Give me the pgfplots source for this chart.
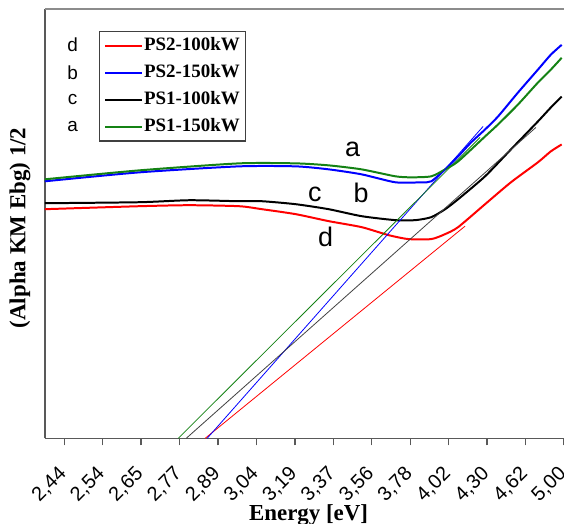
\documentclass[border=0pt]{standalone}
\usepackage{fontspec}
\setmainfont{Liberation Serif}
\setsansfont{Liberation Sans}
\usepackage{pgfplots}
\pgfplotsset{compat=1.18}

\definecolor{cgreen}{RGB}{20,130,20}

% curves: x = tick index (0 = 2,44 ... 13 = 5,00), y = arbitrary units
\pgfplotstableread{
x y
-0.505 230
1.956 233
3.251 234
4.547 233
5.142 230
6.023 225
6.878 218
7.733 212
8.433 204
8.951 200
9.547 200
9.909 205
10.246 212
10.946 235
11.619 257
12.319 277
12.655 288
12.940 295
}\redcurve
\pgfplotstableread{
x y
-0.505 258
1.956 267
4.547 273
6.023 273
6.878 270
7.733 265
8.614 257
9.288 257
9.547 258
9.909 270
10.246 283
10.583 297
10.946 310
11.282 323
11.801 347
12.319 370
12.655 385
12.940 395
}\bluecurve
\pgfplotstableread{
x y
-0.505 236
1.956 237
3.251 239
4.547 238
5.142 238
6.023 235
6.878 230
7.733 223
8.614 219
9.132 219
9.547 222
9.909 230
10.246 240
10.946 263
11.619 290
12.319 318
12.655 332
12.940 343
}\blackcurve
\pgfplotstableread{
x y
-0.505 260
1.956 269
4.547 276
6.023 276
6.878 274
7.733 270
8.614 263
9.029 262
9.547 263
9.909 270
10.246 278
10.946 303
11.282 315
11.801 335
12.319 357
12.655 370
12.940 382
}\greencurve

\begin{document}
\begin{tikzpicture}
\begin{axis}[
  scale only axis,
  width=260.6pt, height=215.5pt,
  xmin=-0.505, xmax=13, ymin=0, ymax=431,
  clip=false,
  axis x line*=bottom, axis y line*=left,
  x axis line style={-}, y axis line style={-},
  axis line style={black!65, line width=0.7pt},
  xtick={0,...,13},
  xticklabels={{2,44},{2,54},{2,65},{2,77},{2,89},{3,04},{3,19},{3,37},{3,56},{3,78},{4,02},{4,30},{4,62},{5,00}},
  tick align=outside, major tick length=3.5pt,
  tick style={black!65, line width=0.7pt},
  ytick=\empty,
  xticklabel style={xshift=-3.5pt, yshift=-9.5pt, rotate=45, anchor=north east,
    inner sep=0pt, font=\sffamily\fontsize{10}{12}\selectfont},
  xlabel={Energy [eV]},
  xlabel style={at={(axis description cs:0.508,0)}, anchor=base, yshift=-41.5pt, font=\bfseries\fontsize{11.5}{13}\selectfont},
  ylabel={(Alpha KM Ebg) 1/2},
  ylabel style={at={(axis description cs:-0.048,0.49)}, anchor=center, font=\bfseries\fontsize{11.5}{13}\selectfont},
  legend style={at={(rel axis cs:0.1036,0.949)}, anchor=north west,
    draw=black!75, line width=0.6pt, inner xsep=2.5pt, inner ysep=2.75pt,
    font=\bfseries\fontsize{9.5}{11}\selectfont, row sep=4.5pt,
    nodes={inner xsep=0.5pt, inner ysep=0pt, text height=7pt, text depth=2pt}},
  legend cell align=left,
  legend image code/.code={\draw[#1, line width=1pt] (0pt,0pt) -- (18.5pt,0pt);},
]
\addplot[red, line width=1pt, smooth, tension=0.4] table {\redcurve};
\addlegendentry{PS2-100kW}
\addplot[blue, line width=1pt, smooth, tension=0.4] table {\bluecurve};
\addlegendentry{PS2-150kW}
\addplot[black, line width=1pt, smooth, tension=0.4] table {\blackcurve};
\addlegendentry{PS1-100kW}
\addplot[cgreen, line width=1pt, smooth, tension=0.4] table {\greencurve};
\addlegendentry{PS1-150kW}

% linear fits
\addplot[red, line width=0.4pt, forget plot] coordinates {(3.666,0) (10.427,213)};
\addplot[blue, line width=0.4pt, forget plot] coordinates {(3.718,0) (10.894,313)};
\addplot[black!75, line width=0.4pt, forget plot] coordinates {(3.174,0) (12.267,312)};
\addplot[cgreen, line width=0.4pt, forget plot] coordinates {(2.966,0) (10.816,302)};

\draw[black!45, line width=0.7pt] (rel axis cs:0,1) -- (rel axis cs:1,1);

\begin{scope}[font=\sffamily\fontsize{9.5}{11}\selectfont]
\node at (axis cs:0.22,395) {d};
\node at (axis cs:0.22,367) {b};
\node at (axis cs:0.22,340) {c};
\node at (axis cs:0.22,313) {a};
\end{scope}
\begin{scope}[font=\sffamily\fontsize{13.5}{15}\selectfont]
\node at (axis cs:7.50,290) {a};
\node at (axis cs:7.72,246) {b};
\node at (axis cs:6.52,245) {c};
\node at (axis cs:6.80,202) {d};
\end{scope}

\coordinate (ll) at (rel axis cs:0,0);
\coordinate (ur) at (rel axis cs:1,1);
\end{axis}
\pgfresetboundingbox
\path[use as bounding box] ([xshift=-22.5pt,yshift=-43pt]ll) rectangle ([yshift=4.5pt]ur);
\end{tikzpicture}
\end{document}
